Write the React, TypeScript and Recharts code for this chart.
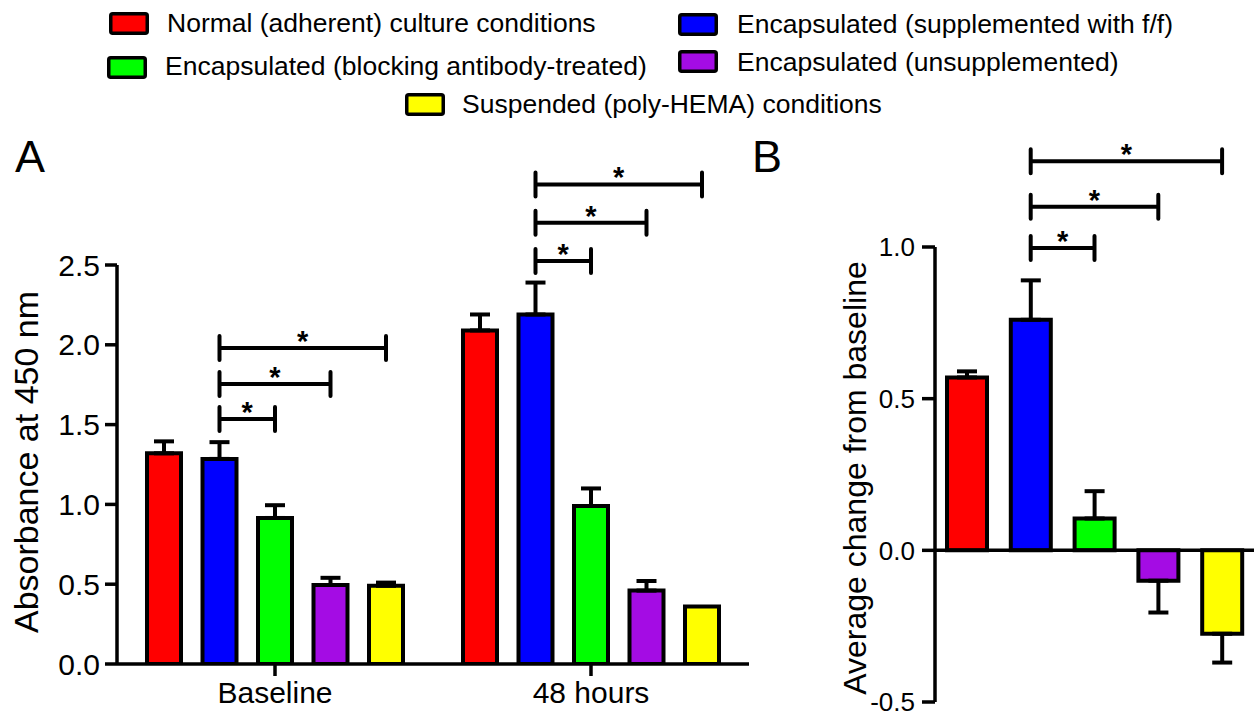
import React from "react";
import { BarChart, Bar, XAxis, YAxis, ErrorBar, ReferenceLine, Cell, Label } from "recharts";

const FONT = "'Liberation Sans', Arial, Helvetica, sans-serif";

// series (shared by both panels)
const SERIES_NAMES = [
  "Normal (adherent) culture conditions",
  "Encapsulated (supplemented with f/f)",
  "Encapsulated (blocking antibody-treated)",
  "Encapsulated (unsupplemented)",
  "Suspended (poly-HEMA) conditions",
];
const SERIES_KEYS = ["normal", "ff", "antibody", "unsup", "hema"];
const SERIES_COLORS = ["#ff0000", "#0000ff", "#00ff00", "#a40ce4", "#ffff00"];

// panel A: absorbance at 450 nm
const TIMEPOINTS = ["Baseline", "48 hours"];
const ABS_NORMAL = [1.32, 2.09];
const ABS_FF = [1.285, 2.19];
const ABS_ANTIBODY = [0.915, 0.99];
const ABS_UNSUP = [0.495, 0.46];
const ABS_HEMA = [0.49, 0.36];
const SEM_NORMAL = [0.075, 0.1];
const SEM_FF = [0.105, 0.2];
const SEM_ANTIBODY = [0.08, 0.11];
const SEM_UNSUP = [0.045, 0.06];
const SEM_HEMA = [0.02, 0];
const ABS_TICKS = [0, 0.5, 1, 1.5, 2, 2.5];

// panel B: average change from baseline
const CHANGE_MEAN = [0.57, 0.76, 0.105, -0.1, -0.275];
const CHANGE_SEM = [0.02, 0.13, 0.09, 0.105, 0.095];
const CHANGE_TICKS = [-0.5, 0, 0.5, 1];

// significance brackets: [from series, to series, height in axis units]
const SIG_BASELINE = [[1, 2, 1.535], [1, 3, 1.755], [1, 4, 1.98]];
const SIG_48H = [[1, 2, 2.525], [1, 3, 2.765], [1, 4, 3.005]];
const SIG_CHANGE = [[1, 2, 0.997], [1, 3, 1.133], [1, 4, 1.283]];

// legend layout (swatch box, text origin)
const LEGEND_POS = [
  { sx: 109, sy: 12, tx: 167, ty: 32 },
  { sx: 678, sy: 13, tx: 737, ty: 33 },
  { sx: 107, sy: 56, tx: 165, ty: 75 },
  { sx: 678, sy: 50, tx: 737, ty: 71 },
  { sx: 405, sy: 93, tx: 462, ty: 113 },
];

const BAR_A = 34;
const GAP_A = 21.5;
const PITCH_A = BAR_A + GAP_A;

const ABS_MEANS = [ABS_NORMAL, ABS_FF, ABS_ANTIBODY, ABS_UNSUP, ABS_HEMA];
const ABS_SEMS = [SEM_NORMAL, SEM_FF, SEM_ANTIBODY, SEM_UNSUP, SEM_HEMA];

const absData = TIMEPOINTS.map((t, ti) => {
  const row: any = { time: t };
  SERIES_KEYS.forEach((k, si) => {
    row[k] = ABS_MEANS[si][ti];
    // no error bar drawn when SEM is zero
    row[k + "Err"] = ABS_SEMS[si][ti] ? [0, ABS_SEMS[si][ti]] : null;
  });
  return row;
});

const changeData = SERIES_NAMES.map((n, i) => ({
  name: n,
  value: CHANGE_MEAN[i],
  err: CHANGE_MEAN[i] >= 0 ? [0, CHANGE_SEM[i]] : [CHANGE_SEM[i], 0],
}));

function Bracket({ xa, xb, y }: { xa: number; xb: number; y: number }) {
  return (
    <g>
      <path d={`M${xa},${y}H${xb}`} stroke="#000" strokeWidth={4} fill="none" />
      <path
        d={`M${xa},${y - 12}V${y + 12}M${xb},${y - 12}V${y + 12}`}
        stroke="#000"
        strokeWidth={4}
        strokeLinecap="round"
        fill="none"
      />
      <text x={(xa + xb) / 2} y={y + 3} textAnchor="middle" fontSize={29} fontWeight="bold" fontFamily={FONT} fill="#000">
        *
      </text>
    </g>
  );
}

// brackets inside a group: offsets from the group centre (middle bar = index 2)
const groupBracket = (from: number, to: number) => (p: any) => (
  <Bracket xa={p.x1 + (from - 2) * PITCH_A} xb={p.x1 + (to - 2) * PITCH_A} y={p.y1} />
);
const plainBracket = (p: any) => <Bracket xa={p.x1} xb={p.x2} y={p.y1} />;

const axisStyle = { stroke: "#000", strokeWidth: 3.5 };

export default function App() {
  return (
    <div style={{ position: "absolute", left: 0, top: 0, width: 1254, height: 719, background: "#fff", overflow: "hidden" }}>
      <div style={{ position: "absolute", left: 0, top: 120 }}>
        <BarChart width={760} height={599} data={absData} margin={{ top: 145, right: 11, bottom: 0, left: 0 }} barGap={GAP_A} barCategoryGap={0}>
          <XAxis
            dataKey="time"
            interval={0}
            height={55}
            axisLine={axisStyle}
            tickLine={axisStyle}
            tickSize={12}
            tickMargin={6}
            tick={{ fill: "#000", fontSize: 30, fontFamily: FONT }}
          />
          <YAxis
            width={117}
            domain={[0, 2.5]}
            ticks={ABS_TICKS}
            interval={0}
            allowDataOverflow
            axisLine={axisStyle}
            tickLine={axisStyle}
            tickSize={12}
            tickMargin={5}
            tickFormatter={(v: number) => v.toFixed(1)}
            tick={{ fill: "#000", fontSize: 30, fontFamily: FONT }}
            label={
              <Label
                content={() => (
                  <text x={26} y={342} transform="rotate(-90 26 342)" textAnchor="middle" dominantBaseline="central" fontSize={34} fontFamily={FONT} fill="#000">
                    Absorbance at 450 nm
                  </text>
                )}
              />
            }
          />
          {SERIES_KEYS.map((k, i) => (
            <Bar key={k} dataKey={k} name={SERIES_NAMES[i]} fill={SERIES_COLORS[i]} stroke="#000" strokeWidth={4} barSize={BAR_A} isAnimationActive={false}>
              <ErrorBar dataKey={k + "Err"} direction="y" width={10} stroke="#000" strokeWidth={4} />
            </Bar>
          ))}
          {SIG_BASELINE.map(([f, t, y], i) => (
            <ReferenceLine key={"b" + i} segment={[{ x: TIMEPOINTS[0], y }, { x: TIMEPOINTS[0], y }]} ifOverflow="visible" shape={groupBracket(f, t)} />
          ))}
          {SIG_48H.map(([f, t, y], i) => (
            <ReferenceLine key={"h" + i} segment={[{ x: TIMEPOINTS[1], y }, { x: TIMEPOINTS[1], y }]} ifOverflow="visible" shape={groupBracket(f, t)} />
          ))}
        </BarChart>
      </div>

      <div style={{ position: "absolute", left: 760, top: 120 }}>
        <BarChart width={494} height={599} data={changeData} margin={{ top: 127, right: 0, bottom: 17, left: 0 }} barCategoryGap={0}>
          <XAxis dataKey="name" hide height={0} />
          <YAxis
            width={175}
            domain={[-0.5, 1]}
            ticks={CHANGE_TICKS}
            interval={0}
            allowDataOverflow
            axisLine={axisStyle}
            tickLine={axisStyle}
            tickSize={13}
            tickMargin={7}
            tickFormatter={(v: number) => v.toFixed(1)}
            tick={{ fill: "#000", fontSize: 26, fontFamily: FONT }}
            label={
              <Label
                content={() => (
                  <text x={95} y={358} transform="rotate(-90 95 358)" textAnchor="middle" dominantBaseline="central" fontSize={32} fontFamily={FONT} fill="#000">
                    Average change from baseline
                  </text>
                )}
              />
            }
          />
          <ReferenceLine y={0} stroke="#000" strokeWidth={3.5} />
          <Bar dataKey="value" stroke="#000" strokeWidth={4} barSize={40} isAnimationActive={false}>
            {changeData.map((d, i) => (
              <Cell key={d.name} fill={SERIES_COLORS[i]} />
            ))}
            <ErrorBar dataKey="err" direction="y" width={10} stroke="#000" strokeWidth={4} />
          </Bar>
          {SIG_CHANGE.map(([f, t, y], i) => (
            <ReferenceLine key={"c" + i} segment={[{ x: SERIES_NAMES[f], y }, { x: SERIES_NAMES[t], y }]} ifOverflow="visible" shape={plainBracket} />
          ))}
        </BarChart>
      </div>

      <svg width={1254} height={200} style={{ position: "absolute", left: 0, top: 0, pointerEvents: "none" }}>
        {SERIES_NAMES.map((n, i) => {
          const p = LEGEND_POS[i];
          return (
            <g key={n}>
              <rect x={p.sx + 1.75} y={p.sy + 1.75} width={36.5} height={19.5} rx={2} fill={SERIES_COLORS[i]} stroke="#000" strokeWidth={3.5} />
              <text x={p.tx} y={p.ty} fontSize={26.5} fontFamily={FONT} fill="#000">
                {n}
              </text>
            </g>
          );
        })}
        <text x={15} y={172} fontSize={45} fontFamily={FONT} fill="#000">A</text>
        <text x={752} y={172} fontSize={45} fontFamily={FONT} fill="#000">B</text>
      </svg>
    </div>
  );
}
